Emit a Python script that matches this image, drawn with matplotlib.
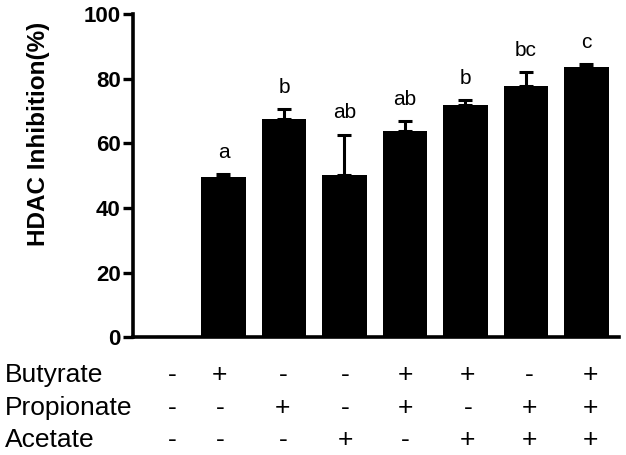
import numpy as np
import matplotlib
matplotlib.use("Agg")
import matplotlib.pyplot as plt
import matplotlib.transforms as mtransforms

plt.rcParams["font.family"] = ["Liberation Sans", "DejaVu Sans"]

# ── data ─────────────────────────────────────
means = [0, 49.7, 67.4, 50.3, 63.9, 71.8, 77.6, 83.7]
errors = [0, 0.8, 3.1, 12.4, 3.0, 1.5, 4.4, 0.8]
letters = ["", "a", "b", "ab", "ab", "b", "bc", "c"]

row_names = ["Butyrate", "Propionate", "Acetate"]
butyrate = ["-", "+", "-", "-", "+", "+", "-", "+"]
propionate = ["-", "-", "+", "-", "+", "-", "+", "+"]
acetate = ["-", "-", "-", "+", "-", "+", "+", "+"]

# ── layout ───────────────────────────────────
col_x = [0.15, 0.94, 1.98, 3.02, 4.0, 5.04, 6.06, 7.07]
row_y = [0.160, 0.088, 0.018]

fig = plt.figure(figsize=(6.26, 4.55), dpi=100)
ax = fig.add_axes([0.213, 0.2587, 0.776, 0.7105])

x = np.arange(len(means))
ax.bar(x, means, width=0.73, color="black", zorder=2)
ax.errorbar(x, means, yerr=[np.zeros(len(errors)), errors], fmt="none",
            ecolor="black", elinewidth=2.2, capsize=5, capthick=2.2, zorder=1)

for xi, m, e, lab in zip(x, means, errors, letters):
    if lab:
        ax.text(xi, m + e + 5, lab, ha="center", va="baseline", fontsize=15)

ax.set_xlim(-0.49, 7.54)
ax.set_ylim(0, 100)
ax.set_yticks([0, 20, 40, 60, 80, 100])
ax.set_xticks([])
for t in ax.get_yticklabels():
    t.set_fontweight("bold")
ax.tick_params(axis="y", labelsize=16, length=7, width=2.4, pad=2)

for s in ["top", "right"]:
    ax.spines[s].set_visible(False)
for s in ["left", "bottom"]:
    ax.spines[s].set_linewidth(2.6)

ax.set_ylabel("HDAC Inhibition(%)", fontsize=17.5, fontweight="bold")
ax.yaxis.set_label_coords(-0.172, 0.63)

# ── tabela de tratamentos ────────────────────
trans = mtransforms.blended_transform_factory(ax.transData, fig.transFigure)
for name, signs, y in zip(row_names, [butyrate, propionate, acetate], row_y):
    fig.text(0.008, y, name, ha="left", va="baseline", fontsize=19)
    for cx, s in zip(col_x, signs):
        fig.text(cx, y, s, ha="center", va="baseline", fontsize=19,
                 transform=trans)

fig.savefig("out.png", dpi=100)
